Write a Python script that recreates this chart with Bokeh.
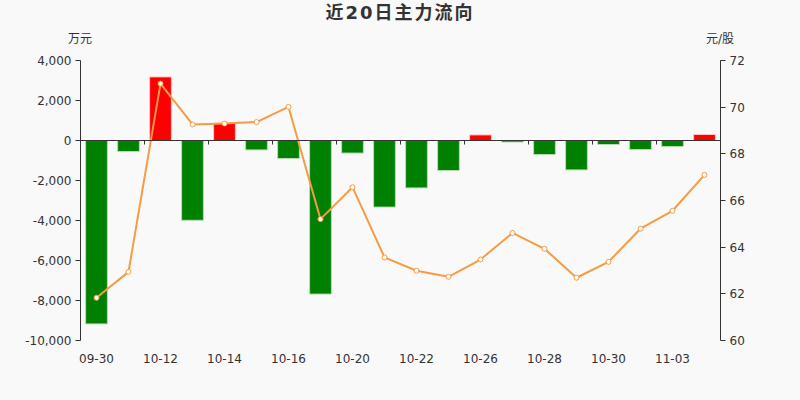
from bokeh.plotting import figure
from bokeh.layouts import column
from bokeh.models import (ColumnDataSource, LinearAxis, Range1d, FixedTicker,
                          SingleIntervalTicker, NumeralTickFormatter, Div)
from bokeh.embed import file_html
from bokeh.resources import INLINE

# --- data ---
dates = ["09-30", "10-09", "10-12", "10-13", "10-14", "10-15", "10-16", "10-19",
         "10-20", "10-21", "10-22", "10-23", "10-26", "10-27", "10-28", "10-29",
         "10-30", "11-02", "11-03", "11-04"]
# main force net flow, 万元
flow = [-9170, -550, 3180, -3990, 870, -470, -900, -7680, -630, -3330,
        -2370, -1500, 280, -80, -700, -1470, -200, -450, -300, 300]
# closing price, 元/股
price = [61.83, 62.94, 71.01, 69.26, 69.30, 69.36, 70.01, 65.20, 66.57, 63.56,
         62.99, 62.73, 63.47, 64.61, 63.93, 62.69, 63.37, 64.79, 65.56, 67.10]

title = "近20日主力流向"
left_unit = "万元"
right_unit = "元/股"

idx = list(range(len(dates)))
x_lo, x_hi = -0.5, len(dates) - 0.5
bar_fill = ["#ff0000" if v > 0 else "#008000" for v in flow]
bar_edge = ["#ffc4c4" if v > 0 else "#b6dcb6" for v in flow]

src = ColumnDataSource(dict(idx=idx, flow=flow, price=price,
                            fill=bar_fill, edge=bar_edge))

BG = "#f9f9f9"
TXT = "#333333"
ORANGE = "#f79a43"
NUM = "DejaVu Sans"

# header: title plus the unit names sitting above each value axis (x=80 / x=720)
span = "position:absolute;top:{top}px;left:{left}px;width:{w}px;text-align:center;line-height:1;"
header_html = (
    f'<div style="position:relative;width:800px;height:50px;background:{BG};color:{TXT};'
    f"font-family:'DejaVu Sans','Noto Sans CJK SC';\">"
    f'<span style="{span.format(top=4, left=0, w=800)}font-size:18px;font-weight:bold;'
    f'letter-spacing:2px;">{title}</span>'
    f'<span style="{span.format(top=33, left=40, w=80)}font-size:12px;">{left_unit}</span>'
    f'<span style="{span.format(top=33, left=680, w=80)}font-size:12px;">{right_unit}</span>'
    '</div>'
)
h = Div(text=header_html, width=800, height=50,
        styles={"margin": "0", "padding": "0", "background-color": BG})

p = figure(width=800, height=350, output_backend="svg", toolbar_location=None,
           x_range=Range1d(x_lo, x_hi), y_range=Range1d(-10000, 4000),
           min_border_left=80, min_border_right=80, min_border_top=10,
           min_border_bottom=60, background_fill_color=BG, border_fill_color=BG,
           outline_line_color=None)
p.extra_y_ranges = {"price": Range1d(60, 72)}
p.grid.visible = False

# left axis
p.yaxis.ticker = SingleIntervalTicker(interval=2000)
p.yaxis.formatter = NumeralTickFormatter(format="0,0")
p.yaxis.axis_line_color = TXT
p.yaxis.major_tick_line_color = TXT
p.yaxis.major_tick_out = 5
p.yaxis.major_tick_in = 0
p.yaxis.minor_tick_line_color = None
p.yaxis.major_label_text_font = NUM
p.yaxis.major_label_text_font_size = "12px"
p.yaxis.major_label_text_color = TXT
p.yaxis.major_label_standoff = 4

# right axis
ra = LinearAxis(y_range_name="price", ticker=SingleIntervalTicker(interval=2))
ra.axis_line_color = TXT
ra.major_tick_line_color = TXT
ra.major_tick_out = 5
ra.major_tick_in = 0
ra.minor_tick_line_color = None
ra.major_label_text_font = NUM
ra.major_label_text_font_size = "12px"
ra.major_label_text_color = TXT
ra.major_label_standoff = 4
p.add_layout(ra, "right")

# bottom axis: labels only
p.xaxis.ticker = FixedTicker(ticks=idx[::2])
p.xaxis.major_label_overrides = {i: dates[i] for i in idx[::2]}
p.xaxis.axis_line_color = None
p.xaxis.major_tick_line_color = None
p.xaxis.minor_tick_line_color = None
p.xaxis.major_label_text_font = NUM
p.xaxis.major_label_text_font_size = "12px"
p.xaxis.major_label_text_color = TXT
p.xaxis.major_label_standoff = 7

# zero line with tick marks between every two days
za = LinearAxis(fixed_location=0,
                ticker=FixedTicker(ticks=[], minor_ticks=[i - 0.5 for i in idx[::2]] + [x_hi]))
za.axis_line_color = TXT
za.minor_tick_line_color = TXT
za.minor_tick_out = 4
za.minor_tick_in = 0
za.major_tick_line_color = None
za.major_label_text_font_size = "0px"
p.add_layout(za, "below")

p.vbar(x="idx", top="flow", bottom=0, width=0.68, fill_color="fill",
       line_color="edge", line_width=1, source=src)
p.line("idx", "price", y_range_name="price", line_color=ORANGE, line_width=2, source=src)
p.scatter("idx", "price", y_range_name="price", size=5, fill_color="white",
          line_color=ORANGE, line_width=1, source=src)

layout = column(h, p, spacing=0, styles={"background-color": BG})
open("out.html", "w").write(file_html(layout, INLINE))
